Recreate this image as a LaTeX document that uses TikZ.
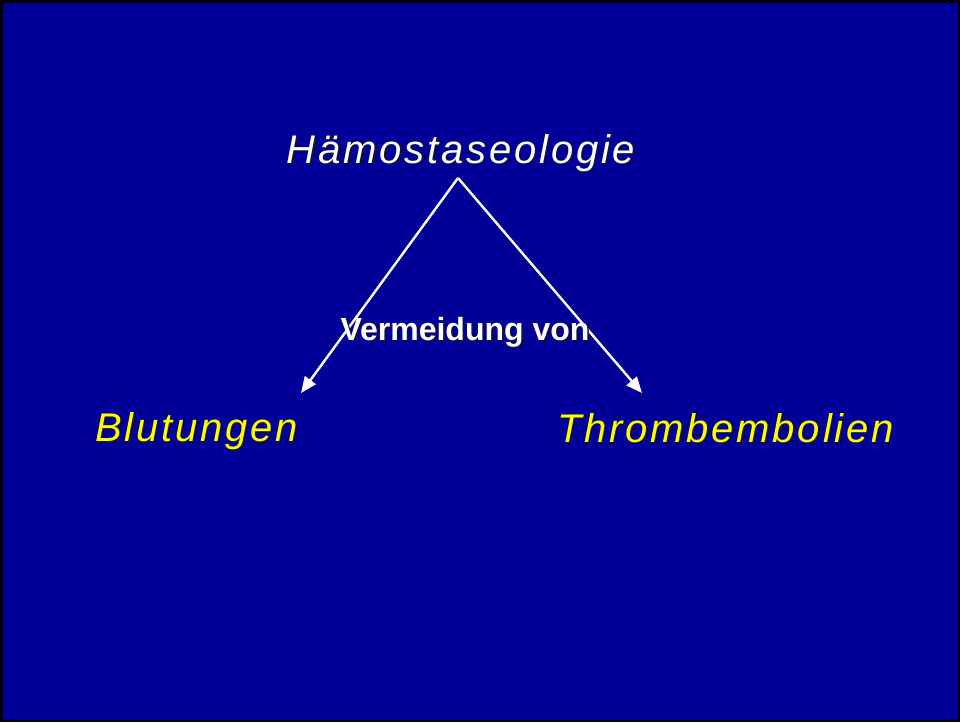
\documentclass[tikz,border=0pt]{standalone}
\usepackage{fontspec}
\setmainfont{Liberation Sans}
\newfontfamily\spacedfont[LetterSpace=7]{Liberation Sans}
\usetikzlibrary{arrows.meta}
\definecolor{slideblue}{RGB}{0,0,153}
\definecolor{slideyellow}{RGB}{255,255,0}
\definecolor{shadowcol}{RGB}{20,20,40}
\tikzset{
  bigtext/.style={font=\spacedfont\itshape\fontsize{30}{35}\selectfont, anchor=base, inner sep=0pt},
  labeltext/.style={font=\bfseries\fontsize{24}{29}\selectfont, anchor=base, inner sep=0pt},
  shadow/.style={text=shadowcol},
  arrowline/.style={draw=white, line width=1.8pt, -{Triangle[length=12pt,width=10pt]}}
}
\begin{document}
\begin{tikzpicture}[x=0.75pt,y=-0.75pt]
\useasboundingbox (0,0) rectangle (960,722);
\fill[black] (0,0) rectangle (960,722);
\fill[slideblue] (2.5,2.5) rectangle (958,720);
% title
\node[bigtext,shadow] at (462.5,164.5) {Hämostaseologie};
\node[bigtext,text=white] (haemo) at (461,163) {Hämostaseologie};
% targets
\node[bigtext,shadow] at (198,443) {Blutungen};
\node[bigtext,text=slideyellow] (blut) at (196.5,441.5) {Blutungen};
\node[bigtext,shadow] at (727,443.5) {Thrombembolien};
\node[bigtext,text=slideyellow] (thromb) at (725.5,442) {Thrombembolien};
% arrows
\coordinate (apex) at (458,178);
\coordinate (lefttip) at (301,393);
\coordinate (righttip) at (642,393);
\draw[arrowline] (apex) -- (lefttip);
\draw[arrowline] (apex) -- (righttip);
% label
\node[labeltext,shadow] at (466.5,341.5) {Vermeidung von};
\node[labeltext,text=white] (verm) at (465,340) {Vermeidung von};
\end{tikzpicture}
\end{document}
